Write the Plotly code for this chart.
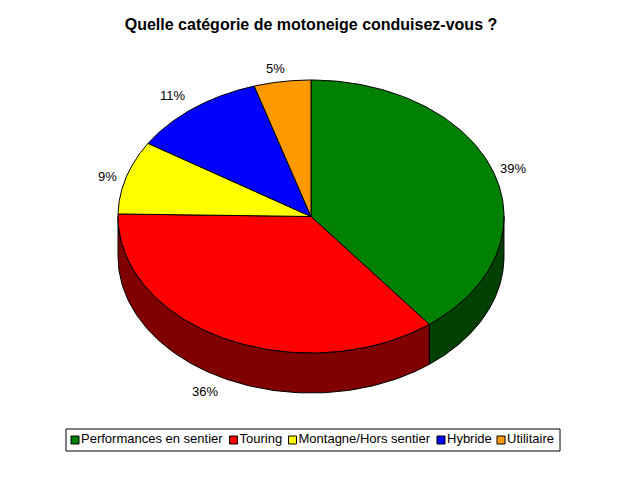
import plotly.graph_objects as go
import numpy as np

title = "Quelle catégorie de motoneige conduisez-vous ?"
categories = ["Performances en sentier", "Touring", "Montagne/Hors sentier", "Hybride", "Utilitaire"]
values = [39.49, 35.8, 8.7, 11.25, 4.75]
colors = ["#008000", "#ff0000", "#ffff00", "#0000ff", "#ff9900"]
side_colors = ["#004000", "#800000", "#808000", "#000080", "#804c00"]

# pie geometry, in pixels of the 640x480 picture
cx, cy = 311, 216.5
rx, ry = 193, 136.5
depth = 40
label_xy = [(513, 168), (205, 391), (107, 176), (172, 95), (275, 68)]
legend_x = [75, 233.5, 292.5, 441, 501]
legend_y = 440


def arc(a0, a1):
    t = np.linspace(a0, a1, 120)
    return cx + rx * np.sin(t), cy - ry * np.cos(t)


fig = go.Figure()

edges = np.cumsum([0] + values) / sum(values) * 2 * np.pi

# side wall: only the front half of the rim shows
for i in range(len(values)):
    a0 = max(edges[i], np.pi / 2)
    a1 = min(edges[i + 1], 3 * np.pi / 2)
    if a1 <= a0:
        continue
    x, y = arc(a0, a1)
    fig.add_trace(go.Scatter(
        x=np.r_[x, x[::-1], x[0]],
        y=np.r_[y, y[::-1] + depth, y[0]],
        mode="lines", fill="toself", fillcolor=side_colors[i],
        line=dict(color="black", width=1), hoverinfo="skip", showlegend=False))

# top face
for i in range(len(values)):
    x, y = arc(edges[i], edges[i + 1])
    fig.add_trace(go.Scatter(
        x=np.r_[cx, x, cx],
        y=np.r_[cy, y, cy],
        mode="lines", fill="toself", fillcolor=colors[i],
        line=dict(color="black", width=1), hoverinfo="skip", showlegend=False))

# percent labels
for v, (lx, ly) in zip(values, label_xy):
    fig.add_annotation(x=lx, y=ly, text=f"{round(v)}%", showarrow=False,
                       font=dict(family="Liberation Sans", size=13, color="black"))

# legend, drawn by hand because plotly's own spacing is too wide
fig.add_shape(type="rect", x0=66, x1=560, y0=429, y1=451, layer="below",
              line=dict(color="black", width=1), fillcolor="white")
for i, name in enumerate(categories):
    fig.add_trace(go.Scatter(
        x=[legend_x[i]], y=[legend_y], mode="markers+text", text=[name],
        textposition="middle right",
        textfont=dict(family="Liberation Sans", size=13, color="black"),
        marker=dict(symbol="square", size=8, color=colors[i],
                    line=dict(color="black", width=1)),
        hoverinfo="skip", showlegend=False))

fig.update_layout(
    width=640, height=480,
    margin=dict(l=0, r=0, t=0, b=0),
    paper_bgcolor="white", plot_bgcolor="white",
    showlegend=False,
    title=dict(text=f"<b>{title}</b>", x=311 / 640, y=1 - 24 / 480,
               xanchor="center", yanchor="middle",
               font=dict(family="Liberation Sans", size=16, color="black")),
    xaxis=dict(range=[0, 640], visible=False, fixedrange=True),
    yaxis=dict(range=[480, 0], visible=False, fixedrange=True),
)

fig.write_html("out.html", config=dict(displayModeBar=False),
               post_script="document.body.style.margin='0';")
